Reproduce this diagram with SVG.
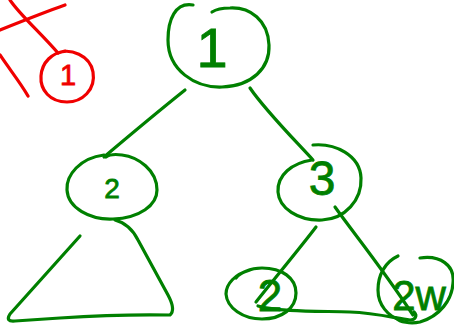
<svg xmlns="http://www.w3.org/2000/svg" width="454" height="330" viewBox="0 0 454 330">
<style>
.g{fill:none;stroke:#008000;stroke-width:3.2;stroke-linecap:round;stroke-linejoin:round}
.r{fill:none;stroke:#f00000;stroke-width:3.2;stroke-linecap:round;stroke-linejoin:round}
.tg{fill:#008000;stroke:#008000;stroke-width:0.8;font-family:"Liberation Sans",Arial,sans-serif;text-anchor:middle}
.tr{fill:#f00000;stroke:#f00000;stroke-width:0.8;font-family:"Liberation Sans",Arial,sans-serif;text-anchor:middle}
</style>
<rect width="454" height="330" fill="#fff"/>
<g id="connectors">
<path class="g" d="M185,90 C160,110 130,135 104,157"/>
<path class="g" d="M250,88 C265,110 290,135 313,160"/>
<path class="g" d="M316,227 C300,248 275,278 256,302"/>
<path class="g" d="M335,207 C355,235 380,265 413,315"/>
<path class="g" d="M258,306 C280,312 320,311 350,312 C375,313 395,318 410,320 C415,320 418,316 414,312"/>
<path class="r" d="M10,0 C20,15 40,32 58,53"/>
</g>
<g id="cross">
<path class="r" d="M0,30 C20,22 45,12 65,5"/>
<path class="r" d="M0,55 C10,70 20,82 28,96"/>
</g>
<g id="red-node">
<path class="r" d="M58,53 C70,48 90,55 93,72 C96,90 82,102 67,102 C50,102 40,90 41,76 C42,62 52,53 65,51"/>
<text class="tr" x="68" y="85" font-size="29">1</text>
</g>
<g id="node1">
<path class="g" d="M193,5 C175,2 168,20 168,40 C168,70 195,88 222,87 C252,86 270,68 269,45 C268,20 250,7 230,8 C222,8 215,10 212,12"/>
<text class="tg" x="212" y="67" font-size="56">1</text>
</g>
<g id="node2">
<path class="g" d="M104,155 C80,158 66,175 67,190 C68,208 90,220 113,219 C140,218 157,205 157,190 C157,170 138,157 122,155 C115,154 110,154 106,157"/>
<text class="tg" x="112" y="198" font-size="28">2</text>
</g>
<g id="subtree">
<path class="g" d="M80,236 L10,314 Q5,322 15,321 L60,318 Q120,314 170,315 Q176,310 168,295 L138,240 Q130,224 115,220"/>
</g>
<g id="node3">
<path class="g" d="M313,145 C335,143 360,155 361,178 C362,200 345,219 322,220 C298,221 279,208 278,192 C277,175 292,163 312,160"/>
<text class="tg" x="322" y="195" font-size="48">3</text>
</g>
<g id="node4">
<path class="g" d="M250,270 C235,274 226,284 226,294 C227,308 243,319 262,319 C282,319 296,308 296,293 C296,278 282,268 262,268 C250,268 240,273 236,278"/>
<text class="tg" x="270" y="311" font-size="44">2</text>
</g>
<g id="node5">
<path class="g" d="M398,256 C385,262 378,275 378,290 C378,305 388,316 400,320"/>
<path class="g" d="M420,258 C440,255 455,265 453,283 C452,300 440,316 420,322 C410,324 400,322 396,318"/>
<text class="tg" x="419" y="310" font-size="42">2w</text>
</g>
</svg>
